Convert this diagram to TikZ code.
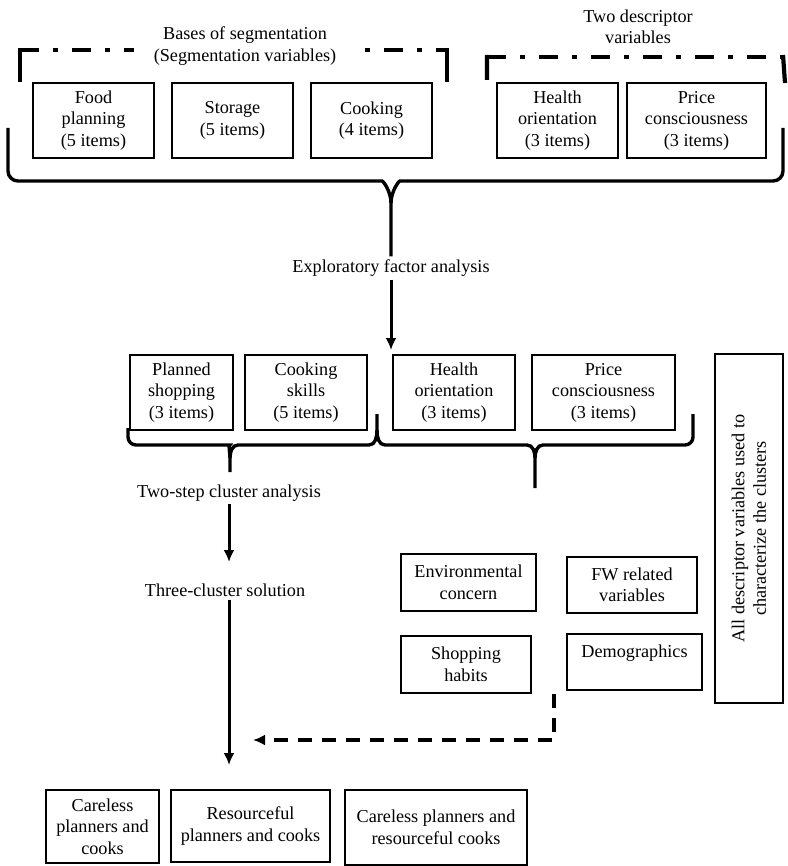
\documentclass[tikz,border=0pt]{standalone}
\usepackage{fontspec}
\setmainfont{Liberation Serif}
\usetikzlibrary{positioning, arrows.meta}
\tikzset{
  every node/.style={font=\fontsize{18.2}{21.5}\selectfont},
  itembox/.style={draw, line width=1.4pt, align=center, inner sep=2pt},
  caption/.style={align=center, inner sep=3pt},
  bracestroke/.style={line width=3.4pt},
  groupline/.style={line width=4.2pt},
  flow/.style={line width=3pt, -{Latex[length=12pt,width=11pt]}},
  dashflow/.style={line width=3.2pt, dash pattern=on 14pt off 10pt, -{Latex[length=12pt,width=11pt]}}
}

\begin{document}
\begin{tikzpicture}[x=1pt, y=-1pt]
  \useasboundingbox (0,0) rectangle (787,866);

  % group brackets on top
  \draw[groupline, dash pattern=on 19pt off 14pt on 5pt off 14pt] (20,50) -- (447,50);
  \draw[groupline] (20,48) -- (20,82) (447,48) -- (447,82);
  \draw[groupline, dash pattern=on 19pt off 14pt on 5pt off 14pt] (487,57) -- (783,57);
  \draw[groupline] (487,55) -- (487,80) (783,55) -- (785,83);
  \node[caption, fill=white, inner xsep=20pt] (bases) at (245,46) {Bases of segmentation\\(Segmentation variables)};
  \node[caption] (twodesc) at (638,27) {Two descriptor\\variables};

  % input variables
  \node[itembox, minimum width=121, minimum height=75] (food) at (93.5,120.5) {Food\\planning\\(5 items)};
  \node[itembox, minimum width=121, minimum height=75] (storage) at (232.5,120.5) {Storage\\(5 items)};
  \node[itembox, minimum width=121, minimum height=75] (cooking) at (371.5,120.5) {Cooking\\(4 items)};
  \node[itembox, minimum width=121, minimum height=75] (health) at (557.5,120.5) {Health\\orientation\\(3 items)};
  \node[itembox, minimum width=139, minimum height=75] (price) at (696.5,120.5) {Price\\consciousness\\(3 items)};

  \node[caption] (efa) at (391,268) {Exploratory factor analysis};
  \coordinate (efaend) at (391,350);

  % big brace
  \draw[bracestroke, rounded corners=10pt] (8,128) -- (8,181) -- (372,181) [sharp corners] to[out=0,in=90] (391,203) -- (efa.north);
  \draw[bracestroke, rounded corners=10pt] (783,128) -- (783,181) -- (410,181) [sharp corners] to[out=180,in=90] (391,203);
  \draw[flow] (efa.south) -- (efaend);

  % factors
  \node[itembox, minimum width=103, minimum height=75] (plan) at (181.5,392.5) {Planned\\shopping\\(3 items)};
  \node[itembox, minimum width=122, minimum height=75] (skills) at (306,392.5) {Cooking\\skills\\(5 items)};
  \node[itembox, minimum width=122, minimum height=75] (health2) at (454,392.5) {Health\\orientation\\(3 items)};
  \node[itembox, minimum width=143, minimum height=75] (price2) at (603.5,392.5) {Price\\consciousness\\(3 items)};
  \node[itembox, rotate=90, minimum width=349, minimum height=68] (alldesc) at (749,528.5) {All descriptor variables used to\\characterize the clusters};

  \node[caption] (tsca) at (229,493) {Two-step cluster analysis};
  \node[caption] (tcs) at (225,590) {Three-cluster solution};
  \coordinate (tscaend) at (229,562);
  \coordinate (tcsend) at (229,765);
  \coordinate (leftstem) at (230,472);
  \coordinate (rightstem) at (535,488);

  % braces below factors
  \draw[bracestroke, rounded corners=8pt] (128,428) -- (128,445) -- (222,445) [sharp corners] to[out=0,in=90] (230,458) -- (leftstem);
  \draw[bracestroke] (230,458) to[out=90,in=180] (238,445) -- (369,445) to[out=0,in=-90] (377,430) -- (377,414);
  \draw[bracestroke] (377,430) to[out=-90,in=180] (385,445) -- (527,445) to[out=0,in=90] (535,458) -- (rightstem);
  \draw[bracestroke, rounded corners=8pt] (535,458) [sharp corners] to[out=90,in=180] (543,445) [rounded corners=8pt] -- (693,445) -- (693,414);

  \draw[flow] (tsca.south -| tscaend) -- (tscaend);
  \draw[flow] (tcs.south -| tcsend) -- (tcsend);

  % other descriptors
  \node[itembox, minimum width=135, minimum height=57] (env) at (468.5,582.5) {Environmental\\concern};
  \node[itembox, minimum width=130, minimum height=56] (fw) at (632,585) {FW related\\variables};
  \node[itembox, minimum width=130, minimum height=57] (shop) at (466,664.5) {Shopping\\habits};
  \node[itembox, minimum width=135, minimum height=56] (demo) at (634.5,662) {Demographics\\\mbox{}};

  \coordinate (dashstart) at (554,694);
  \coordinate (dashend) at (253,740);
  \draw[dashflow] (dashstart) |- (dashend);

  % clusters
  \node[itembox, minimum width=113, minimum height=73] (careless) at (102.5,826.5) {Careless\\planners and\\cooks};
  \node[itembox, minimum width=159, minimum height=72] (resource) at (250.5,826) {Resourceful\\planners and cooks};
  \node[itembox, minimum width=182, minimum height=75] (mixed) at (436,827.5) {Careless planners and\\resourceful cooks};
\end{tikzpicture}
\end{document}
